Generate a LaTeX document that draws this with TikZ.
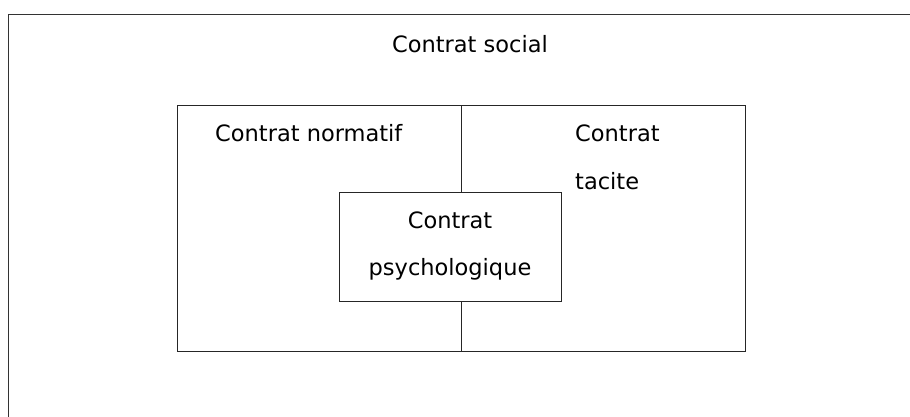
\documentclass[tikz,border=0pt]{standalone}
\usepackage{fontspec}
\setmainfont{DejaVu Sans}
\begin{document}
\begin{tikzpicture}[x=1pt,y=-1pt,
  lbl/.style={inner sep=0pt,font=\fontsize{22.5}{47}\selectfont},
  boxline/.style={draw=black!85,line width=1pt}]
\useasboundingbox (0,0) rectangle (910,416);
\begin{scope}
\clip (0,0) rectangle (910,416);
\draw[draw=black!80,line width=1.6pt] (8.5,14.5) rectangle (930,440);
\end{scope}
\coordinate (dtop) at (461,105);
\coordinate (dbot) at (461,351);
\draw[boxline] (177,105) rectangle (745,351);
\node[boxline,minimum width=222pt,minimum height=109pt,inner sep=0pt,fill=white] (psy) at (450,246.5) {};
\draw[boxline] (dtop) -- (dtop |- psy.north);
\draw[boxline] (dbot |- psy.south) -- (dbot);
\node[lbl,anchor=base] (social) at (470,52) {Contrat social};
\node[lbl,anchor=base west] (norm) at (215,141.7) {Contrat normatif};
\node[lbl,anchor=base west] (tac1) at (575,141.7) {Contrat};
\node[lbl,anchor=base west] (tac2) at (575,189) {tacite};
\node[lbl,anchor=base] (psy1) at (450,228) {Contrat};
\node[lbl,anchor=base] (psy2) at (450,275) {psychologique};
\end{tikzpicture}
\end{document}
